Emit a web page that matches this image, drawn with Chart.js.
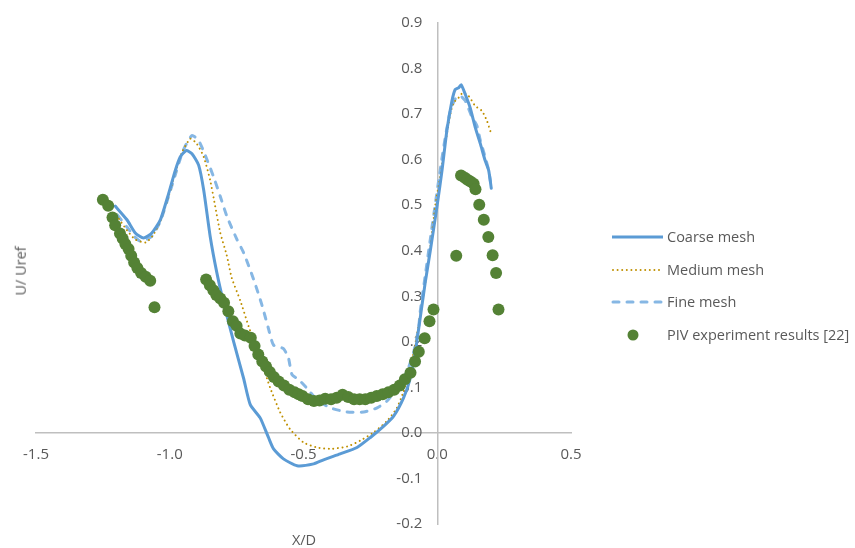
<!DOCTYPE html>
<html>
<head>
<meta charset="utf-8">
<script src="https://cdn.jsdelivr.net/npm/chart.js@4.4.1/dist/chart.umd.min.js"></script>
<style>
html,body{margin:0;padding:0;background:#ffffff;}
#wrap{position:relative;width:855px;height:548px;font-family:"Open Sans",sans-serif;color:#595959;overflow:hidden;}
#c{position:absolute;left:0;top:0;}
.t{position:absolute;font-size:14.5px;white-space:nowrap;line-height:1;}
.leg{position:absolute;left:611px;height:20px;transform:translateY(-50%);}
.leg svg{position:absolute;left:0;top:0;}
.leg span{position:absolute;left:56px;top:50%;transform:translateY(-50%);font-size:14.5px;white-space:nowrap;line-height:1;}
</style>
</head>
<body>
<div id="wrap">
<canvas id="c" width="855" height="548"></canvas>
<div class="t" style="left:304px;top:540px;transform:translate(-50%,-50%);">X/D</div>
<div class="t" style="left:21px;top:271px;transform:translate(-50%,-50%) rotate(-90deg);">U/ Uref</div>
<div class="leg" style="top:237px;"><svg width="54" height="20"><line x1="1" y1="10" x2="52" y2="10" stroke="#5B9BD5" stroke-width="3"/></svg><span>Coarse mesh</span></div>
<div class="leg" style="top:270px;"><svg width="54" height="20"><line x1="2" y1="10" x2="52" y2="10" stroke="#BF9000" stroke-width="2" stroke-dasharray="0 4.6" stroke-linecap="round"/></svg><span>Medium mesh</span></div>
<div class="leg" style="top:302px;"><svg width="54" height="20"><line x1="2" y1="10" x2="52" y2="10" stroke="#86B7E4" stroke-width="3" stroke-dasharray="6 8" stroke-linecap="round"/></svg><span>Fine mesh</span></div>
<div class="leg" style="top:335px;"><svg width="54" height="20"><circle cx="22" cy="10" r="5.5" fill="#548235"/></svg><span>PIV experiment results [22]</span></div>
</div>
<script>
// ---- data ----
const coarseX = [-1.204,-1.16,-1.129,-1.098,-1.067,-1.035,-1.004,-0.979,-0.961,-0.938,-0.917,-0.892,-0.873,-0.849,-0.824,-0.799,-0.761,-0.724,-0.699,-0.662,-0.631,-0.612,-0.575,-0.524,-0.462,-0.425,-0.363,-0.3,-0.25,-0.2,-0.163,-0.126,-0.101,-0.082,-0.064,-0.045,-0.026,-0.001,0.018,0.036,0.055,0.067,0.08,0.09,0.105,0.123,0.142,0.161,0.179,0.192,0.202];
const coarseY = [0.498,0.468,0.439,0.428,0.439,0.468,0.526,0.577,0.606,0.620,0.613,0.588,0.533,0.432,0.352,0.287,0.2,0.12,0.062,0.033,-0.01,-0.035,-0.057,-0.072,-0.068,-0.059,-0.046,-0.032,-0.01,0.015,0.037,0.077,0.12,0.178,0.251,0.33,0.40,0.497,0.577,0.664,0.729,0.754,0.758,0.764,0.743,0.714,0.671,0.635,0.598,0.577,0.537];

const mediumX = [-1.19,-1.16,-1.13,-1.09,-1.065,-1.035,-1.004,-0.979,-0.955,-0.923,-0.899,-0.873,-0.849,-0.83,-0.811,-0.787,-0.768,-0.736,-0.704,-0.662,-0.624,-0.587,-0.55,-0.5,-0.45,-0.4,-0.337,-0.288,-0.238,-0.188,-0.151,-0.126,-0.101,-0.076,-0.051,-0.026,-0.007,0.011,0.03,0.049,0.061,0.08,0.096,0.117,0.142,0.167,0.186,0.2];
const mediumY = [0.47,0.445,0.425,0.418,0.432,0.465,0.52,0.572,0.615,0.646,0.635,0.606,0.555,0.497,0.439,0.39,0.34,0.29,0.232,0.165,0.098,0.045,0.008,-0.021,-0.032,-0.035,-0.03,-0.017,0.001,0.026,0.055,0.091,0.142,0.215,0.305,0.407,0.501,0.562,0.635,0.7,0.725,0.736,0.747,0.74,0.718,0.707,0.685,0.66];

const fineX = [-1.195,-1.16,-1.13,-1.11,-1.07,-1.035,-1.004,-0.975,-0.95,-0.917,-0.892,-0.867,-0.836,-0.811,-0.786,-0.749,-0.724,-0.687,-0.655,-0.631,-0.612,-0.575,-0.556,-0.543,-0.518,-0.487,-0.45,-0.4,-0.337,-0.275,-0.225,-0.188,-0.151,-0.113,-0.088,-0.07,-0.064,-0.045,-0.026,-0.007,0.011,0.03,0.049,0.067,0.086,0.105,0.13,0.148,0.161,0.179,0.192,0.202];
const fineY = [0.478,0.452,0.43,0.421,0.43,0.465,0.52,0.575,0.62,0.653,0.642,0.609,0.562,0.519,0.475,0.425,0.396,0.338,0.28,0.229,0.193,0.185,0.164,0.128,0.117,0.098,0.073,0.055,0.046,0.046,0.055,0.07,0.098,0.135,0.178,0.229,0.265,0.345,0.425,0.504,0.577,0.649,0.707,0.733,0.74,0.729,0.693,0.675,0.642,0.606,0.577,0.54];

const pivX = [-1.25,-1.23,-1.214,-1.204,-1.186,-1.176,-1.166,-1.154,-1.144,-1.133,-1.121,-1.107,-1.09,-1.073,-1.057,
  -0.864,-0.85,-0.837,-0.826,-0.811,-0.797,-0.781,-0.764,-0.75,-0.736,-0.719,-0.697,-0.683,-0.669,-0.654,-0.64,-0.626,-0.611,-0.593,-0.573,-0.553,-0.533,-0.518,-0.504,-0.483,-0.461,-0.44,-0.419,-0.397,-0.376,-0.354,-0.333,-0.311,-0.29,-0.269,-0.247,-0.226,-0.204,-0.183,-0.161,-0.14,-0.121,-0.1,-0.083,-0.069,-0.047,-0.029,-0.014,
  0.071,0.089,0.103,0.113,0.124,0.136,0.143,0.157,0.174,0.191,0.207,0.22,0.229];
const pivY = [0.512,0.499,0.473,0.456,0.438,0.427,0.415,0.404,0.389,0.374,0.362,0.351,0.343,0.334,0.276,
  0.337,0.324,0.313,0.303,0.295,0.286,0.267,0.245,0.235,0.218,0.214,0.209,0.191,0.172,0.157,0.146,0.134,0.123,0.113,0.104,0.095,0.089,0.085,0.081,0.074,0.07,0.071,0.075,0.074,0.077,0.084,0.079,0.074,0.074,0.074,0.077,0.081,0.085,0.089,0.095,0.104,0.118,0.132,0.157,0.178,0.208,0.245,0.271,
  0.389,0.565,0.56,0.556,0.552,0.547,0.535,0.501,0.468,0.43,0.39,0.351,0.271];

const xTicks = [-1.5, -1.0, -0.5, 0.0, 0.5];
const yTicks = [-0.2, -0.1, 0.0, 0.1, 0.2, 0.3, 0.4, 0.5, 0.6, 0.7, 0.8, 0.9];

function pts(xs, ys) { return xs.map((x, i) => ({x: x, y: ys[i]})); }

const tickFont = {family: '"Open Sans", sans-serif', size: 15};
const axisColor = '#BFBFBF';
// y labels sit left of the centred axis: trailing en spaces give the gap
const yGap = '\u2002\u2002';

new Chart(document.getElementById('c'), {
  type: 'scatter',
  data: {
    datasets: [
      {label: 'Coarse mesh', data: pts(coarseX, coarseY), showLine: true, borderColor: '#5B9BD5', borderWidth: 3, pointRadius: 0, fill: false, tension: 0.2, borderJoinStyle: 'round', borderCapStyle: 'round', order: 1},
      {label: 'Medium mesh', data: pts(mediumX, mediumY), showLine: true, borderColor: '#BF9000', borderWidth: 2, borderDash: [0.01, 4.6], borderCapStyle: 'round', pointRadius: 0, fill: false, tension: 0.2, order: 2},
      {label: 'Fine mesh', data: pts(fineX, fineY), showLine: true, borderColor: '#86B7E4', borderWidth: 3, borderDash: [6, 8], borderCapStyle: 'round', pointRadius: 0, fill: false, tension: 0.2, order: 3},
      {label: 'PIV experiment results [22]', data: pts(pivX, pivY), showLine: false, backgroundColor: '#548235', borderColor: '#548235', borderWidth: 0, pointRadius: 6, order: 0}
    ]
  },
  options: {
    responsive: false,
    animation: false,
    devicePixelRatio: 1,
    layout: {padding: {left: 36, right: 284, top: 18, bottom: 24}},
    plugins: {legend: {display: false}, tooltip: {enabled: false}},
    scales: {
      x: {
        type: 'linear', min: -1.5, max: 0.5,
        position: {y: 0},
        afterBuildTicks: s => { s.ticks = xTicks.map(v => ({value: v})); },
        ticks: {autoSkip: false, maxRotation: 0, padding: 13, color: '#595959', font: tickFont, callback: v => Number(v).toFixed(1)},
        grid: {display: false, drawTicks: false},
        border: {display: true, color: axisColor, width: 1.5}
      },
      y: {
        type: 'linear', min: -0.2, max: 0.9,
        position: {x: 0},
        afterBuildTicks: s => { s.ticks = yTicks.map(v => ({value: v})); },
        ticks: {autoSkip: false, padding: 14, color: '#595959', font: tickFont, callback: v => Number(v).toFixed(1) + yGap},
        grid: {display: false, drawTicks: false},
        border: {display: true, color: axisColor, width: 1.5}
      }
    }
  }
});
</script>
</body>
</html>
